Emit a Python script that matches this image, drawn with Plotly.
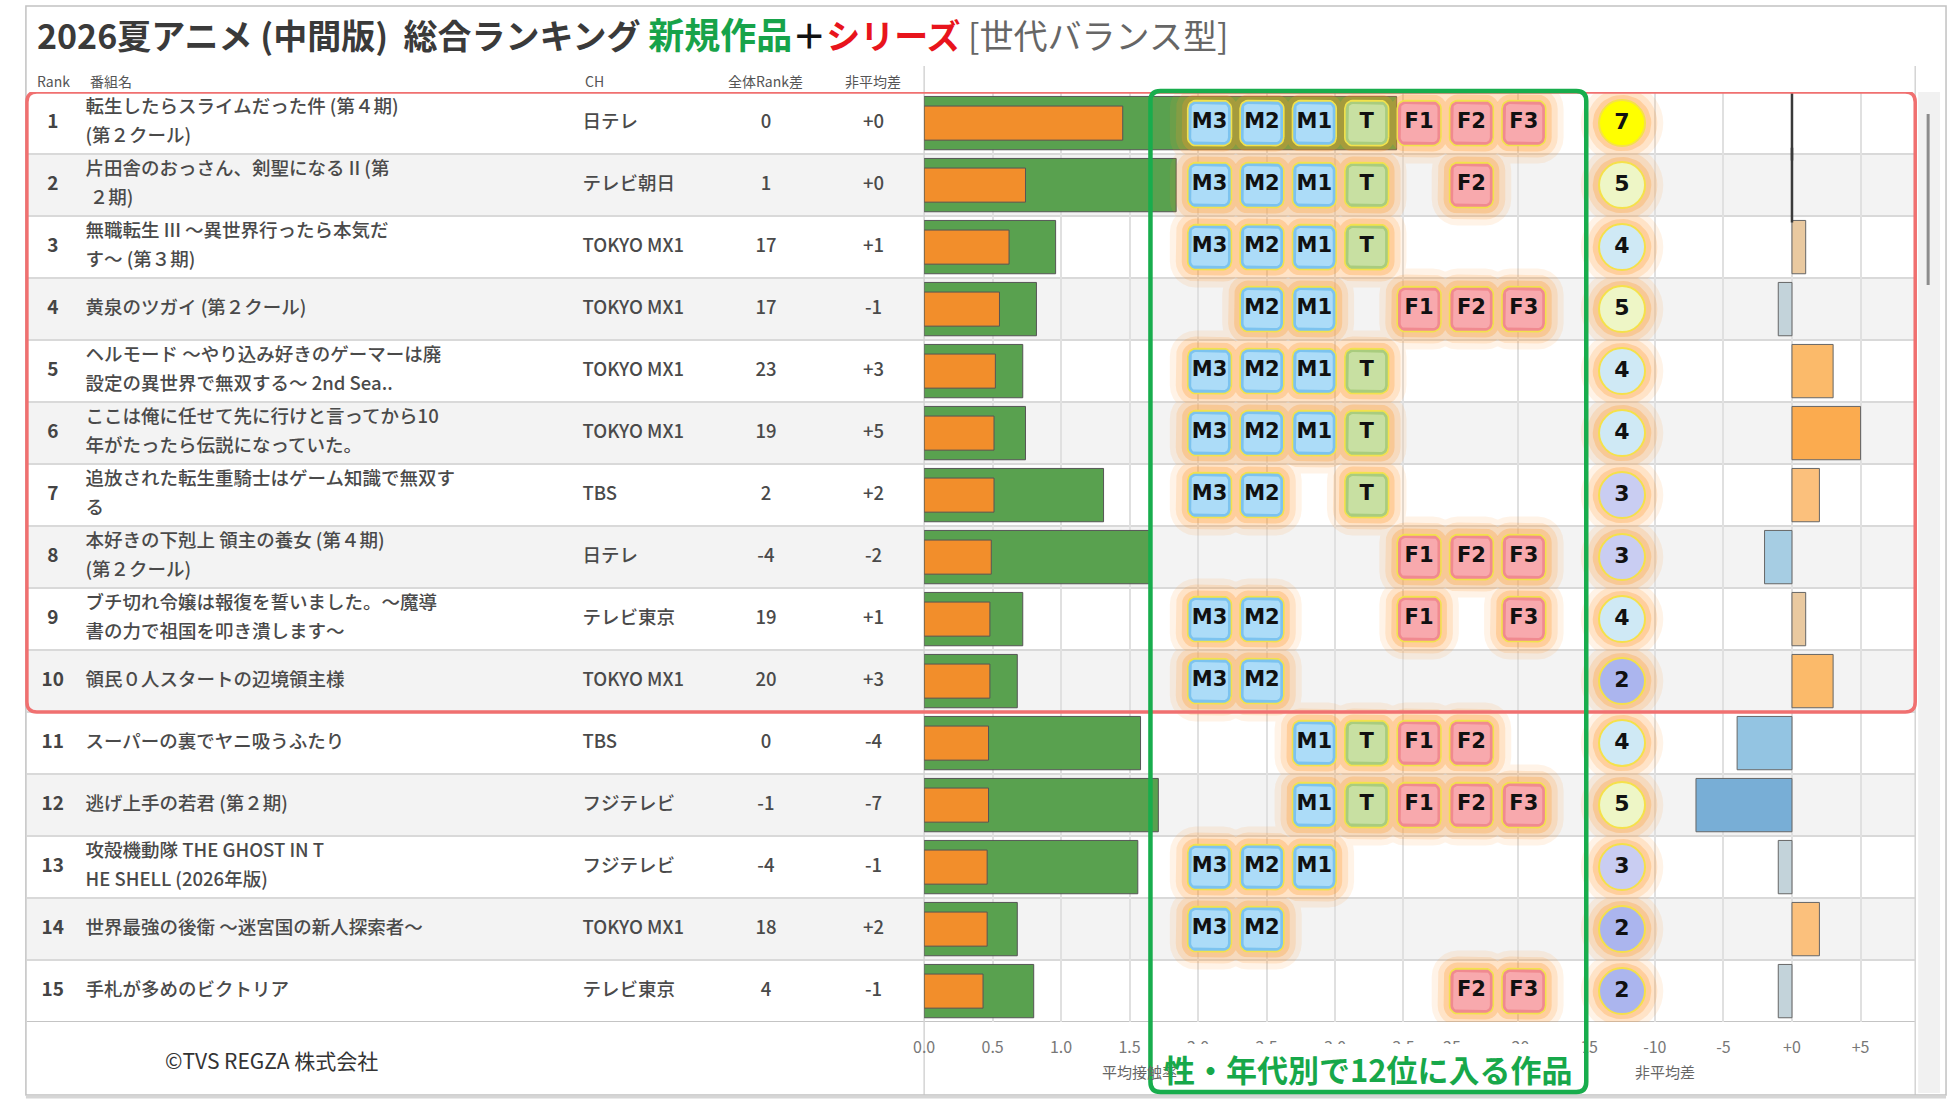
import math
import plotly.graph_objects as go

W, H = 1950, 1104

# ---------------- data ----------------
ranks = list(range(1, 16))
titles = [
    "転生したらスライムだった件 (第４期)|(第２クール)",
    "片田舎のおっさん、剣聖になる II (第| ２期)",
    "無職転生 III ～異世界行ったら本気だ|す～ (第３期)",
    "黄泉のツガイ (第２クール)",
    "ヘルモード ～やり込み好きのゲーマーは廃|設定の異世界で無双する～ 2nd Sea..",
    "ここは俺に任せて先に行けと言ってから10|年がたったら伝説になっていた。",
    "追放された転生重騎士はゲーム知識で無双す|る",
    "本好きの下剋上 領主の養女 (第４期)|(第２クール)",
    "ブチ切れ令嬢は報復を誓いました。～魔導|書の力で祖国を叩き潰します～",
    "領民０人スタートの辺境領主様",
    "スーパーの裏でヤニ吸うふたり",
    "逃げ上手の若君 (第２期)",
    "攻殻機動隊 THE GHOST IN T|HE SHELL (2026年版)",
    "世界最強の後衛 ～迷宮国の新人探索者～",
    "手札が多めのビクトリア",
]
channels = ["日テレ", "テレビ朝日", "TOKYO MX1", "TOKYO MX1", "TOKYO MX1",
            "TOKYO MX1", "TBS", "日テレ", "テレビ東京", "TOKYO MX1",
            "TBS", "フジテレビ", "フジテレビ", "TOKYO MX1", "テレビ東京"]
rank_diff = [0, 1, 17, 17, 23, 19, 2, -4, 19, 20, 0, -1, -4, 18, 4]
nonavg_diff = [0, 0, 1, -1, 3, 5, 2, -2, 1, 3, -4, -7, -1, 2, -1]
avg_total = [3.45, 1.84, 0.96, 0.82, 0.72, 0.74, 1.31, 1.65, 0.72, 0.68,
             1.58, 1.71, 1.56, 0.68, 0.80]
avg_sub = [1.45, 0.74, 0.62, 0.55, 0.52, 0.51, 0.51, 0.49, 0.48, 0.48,
           0.47, 0.47, 0.46, 0.46, 0.43]
segments = ["M3", "M2", "M1", "T", "F1", "F2", "F3"]
top12_segments = [
    ["M3", "M2", "M1", "T", "F1", "F2", "F3"],
    ["M3", "M2", "M1", "T", "F2"],
    ["M3", "M2", "M1", "T"],
    ["M2", "M1", "F1", "F2", "F3"],
    ["M3", "M2", "M1", "T"],
    ["M3", "M2", "M1", "T"],
    ["M3", "M2", "T"],
    ["F1", "F2", "F3"],
    ["M3", "M2", "F1", "F3"],
    ["M3", "M2"],
    ["M1", "T", "F1", "F2"],
    ["M1", "T", "F1", "F2", "F3"],
    ["M3", "M2", "M1"],
    ["M3", "M2"],
    ["F2", "F3"],
]
avg_ticks = [0.0, 0.5, 1.0, 1.5, 2.0, 2.5, 3.0, 3.5]
diff_ticks = [-25, -20, -15, -10, -5, 0, 5]
highlight_top = 10

# ---------------- layout constants (pixels) ----------------
FONT = "Noto Sans CJK JP"
ROW_TOP, ROW_BOT = 92.1, 1022.1
N = len(ranks)
ROW_PX = (ROW_BOT - ROW_TOP) / N
AVG_X0, AVG_PX = 917.8, 137.8      # px of 0, px per unit
SPLIT_X = 1446.0
DIFF_X1 = 1915.0
DIFF_PX = 13.8
BADGE_X0, BADGE_STEP = 1205.0, 52.7
BADGE_W, BADGE_H, BADGE_R = 44, 45, 8
CIRCLE_X = 1620.0
TXT = "#4a4a4a"


def px2py(p):
    return 1 - p / H


def rrect(cx, cy, w, h, r, n=6):
    xs, ys = [], []
    corners = [(w / 2 - r, h / 2 - r, 0), (-(w / 2 - r), h / 2 - r, 90),
               (-(w / 2 - r), -(h / 2 - r), 180), (w / 2 - r, -(h / 2 - r), 270)]
    for ox, oy, a0 in corners:
        for k in range(n + 1):
            a = math.radians(a0 + 90 * k / n)
            xs.append(cx + ox + r * math.cos(a))
            ys.append(cy + (oy + r * math.sin(a)) / ROW_PX)
    xs.append(xs[0])
    ys.append(ys[0])
    return xs, ys


def rpath(x0, x1, y0, y1, rx, ry):
    return (f"M {x0+rx},{y0} L {x1-rx},{y0} Q {x1},{y0} {x1},{y0+ry} "
            f"L {x1},{y1-ry} Q {x1},{y1} {x1-rx},{y1} L {x0+rx},{y1} "
            f"Q {x0},{y1} {x0},{y1-ry} L {x0},{y0+ry} Q {x0},{y0} {x0+rx},{y0} Z")


fig = go.Figure()

# ---------------- average bars (xaxis) ----------------
fig.add_trace(go.Bar(x=avg_total, y=ranks, orientation="h", width=0.86,
                     marker=dict(color="#59a14f", line=dict(color="#555555", width=1)),
                     xaxis="x", yaxis="y", hoverinfo="skip"))
fig.add_trace(go.Bar(x=avg_sub, y=ranks, orientation="h", width=0.55,
                     marker=dict(color="#f28e2b", line=dict(color="#555555", width=1)),
                     xaxis="x", yaxis="y", hoverinfo="skip"))

# ---------------- non-average diff bars (xaxis2) ----------------
diff_scale = [[0.0, "#78aed6"], [0.25, "#93c4e2"], [0.4167, "#a6cde3"],
              [0.5, "#c3d3da"], [0.5833, "#d9d3c8"], [0.6667, "#e9c9a0"],
              [0.75, "#fbc07c"], [0.8333, "#fbba6a"], [1.0, "#fbab4f"]]
fig.add_trace(go.Bar(x=nonavg_diff, y=ranks, orientation="h", width=0.86,
                     marker=dict(color=nonavg_diff, colorscale=diff_scale, cmin=-7, cmax=5,
                                 line=dict(color="#666666", width=1)),
                     xaxis="x2", yaxis="y", hoverinfo="skip"))
zero_rows = [r for r, v in zip(ranks, nonavg_diff) if v == 0]
fig.add_trace(go.Scatter(x=[0] * len(zero_rows), y=zero_rows, mode="markers",
                         marker=dict(symbol="line-ns", size=0.86 * ROW_PX,
                                     line=dict(color="#3a3a3a", width=2.5)),
                         xaxis="x2", yaxis="y", hoverinfo="skip"))

# ---------------- badges & circles (xaxis3, pixel scale) ----------------
seg_color = {"M": "#acdcf8", "T": "#c8e0a2", "F": "#f8a9ad"}
seg_edge = {"M": "#7cc3ef", "T": "#a9cc7e", "F": "#f08a90"}
badge_pos = []
for r, segs in zip(ranks, top12_segments):
    for s in segs:
        badge_pos.append((BADGE_X0 + segments.index(s) * BADGE_STEP, r, s))
counts = [len(s) for s in top12_segments]

# glow
for exp, alpha in [(18, 0.11), (12, 0.17), (6, 0.27)]:
    gx, gy = [], []
    for bx, by, s in badge_pos:
        xs, ys = rrect(bx, by, BADGE_W + 2 * exp, BADGE_H + 2 * exp, BADGE_R + exp)
        gx += xs + [None]
        gy += ys + [None]
    for r in ranks:
        xs, ys = rrect(CIRCLE_X, r, 47 + 2 * exp, 44 + 2 * exp, 22 + exp, n=10)
        gx += xs + [None]
        gy += ys + [None]
    fig.add_trace(go.Scatter(x=gx, y=gy, mode="lines", fill="toself",
                             fillcolor=f"rgba(255,150,40,{alpha})",
                             line=dict(width=0), xaxis="x3", yaxis="y",
                             hoverinfo="skip"))

for key in ["M", "T", "F"]:
    for w_add, col, lw in [(0, seg_edge[key], 1.6), (-7, seg_color[key], 0)]:
        gx, gy = [], []
        for bx, by, s in badge_pos:
            if s[0] != key:
                continue
            xs, ys = rrect(bx, by, BADGE_W + w_add, BADGE_H + w_add, BADGE_R + w_add / 2)
            gx += xs + [None]
            gy += ys + [None]
        fig.add_trace(go.Scatter(x=gx, y=gy, mode="lines", fill="toself", fillcolor=col,
                                 line=dict(width=lw, color="#f2e24c" if lw else col),
                                 xaxis="x3", yaxis="y", hoverinfo="skip"))

fig.add_trace(go.Scatter(x=[b[0] for b in badge_pos], y=[b[1] for b in badge_pos],
                         mode="text", text=["<b>%s</b>" % b[2] for b in badge_pos],
                         textfont=dict(family="DejaVu Sans", size=21, color="#111111"),
                         xaxis="x3", yaxis="y", hoverinfo="skip", cliponaxis=False))

circle_color = {7: "#ffff00", 5: "#eef6c6", 4: "#cfe9f5", 3: "#c9cdf2", 2: "#abb5ee"}
fig.add_trace(go.Scatter(x=[CIRCLE_X] * N, y=ranks, mode="markers+text",
                         marker=dict(size=46, color=[circle_color[c] for c in counts],
                                     line=dict(color="#f5e14a", width=2)),
                         text=["<b>%d</b>" % c for c in counts],
                         textfont=dict(family="DejaVu Sans", size=22, color="#111111"),
                         textposition="middle center",
                         xaxis="x3", yaxis="y", hoverinfo="skip", cliponaxis=False))

# ---------------- table text (xaxis3) ----------------
def add_text(xs, ys, texts, pos, size=18.5, color=TXT, family=FONT, weight=500):
    fig.add_trace(go.Scatter(x=xs, y=ys, mode="text", text=texts, textposition=pos,
                             textfont=dict(family=family, size=size, color=color,
                                           weight=weight),
                             xaxis="x3", yaxis="y", hoverinfo="skip", cliponaxis=False))

add_text([41] * N, ranks, [str(r) for r in ranks], "middle center", size=19,
         color="#444444", weight=700)
t_x, t_y, t_t = [], [], []
for r, t in zip(ranks, titles):
    parts = t.split("|")
    if len(parts) == 1:
        t_x.append(74); t_y.append(r); t_t.append(parts[0])
    else:
        t_x += [74, 74]; t_y += [r - 0.235, r + 0.235]; t_t += parts
add_text(t_x, t_y, t_t, "middle right")
add_text([574] * N, ranks, channels, "middle right")
add_text([758.6] * N, ranks, [str(v) for v in rank_diff], "middle center")
add_text([866.8] * N, ranks, ["%+d" % v for v in nonavg_diff], "middle center")

# ---------------- shapes ----------------
shapes = []
for r in ranks:
    if r % 2 == 0:
        shapes.append(dict(type="rect", xref="paper", yref="y", x0=15 / W, x1=DIFF_X1 / W,
                           y0=r - 0.5, y1=r + 0.5, fillcolor="#f3f3f3",
                           line=dict(width=0), layer="below"))
for r in ranks:
    shapes.append(dict(type="line", xref="paper", yref="y", x0=15 / W, x1=DIFF_X1 / W,
                       y0=r + 0.5, y1=r + 0.5, line=dict(color="#d9d9d9", width=2),
                       layer="below"))
shapes.append(dict(type="line", xref="paper", yref="y", x0=15 / W, x1=DIFF_X1 / W,
                   y0=N + 0.5, y1=N + 0.5, line=dict(color="#c4c4c4", width=2), layer="below"))
# vertical separators
for xx in [AVG_X0, DIFF_X1]:
    shapes.append(dict(type="line", xref="paper", yref="paper", x0=xx / W, x1=xx / W,
                       y0=px2py(66), y1=px2py(1095), line=dict(color="#d4d4d4", width=1.5),
                       layer="below"))
# scrollbar
shapes.append(dict(type="rect", xref="paper", yref="paper", x0=1918 / W, x1=1940 / W,
                   y0=px2py(92), y1=px2py(1093), fillcolor="#f1f1f1", line=dict(width=0),
                   layer="below"))
shapes.append(dict(type="line", xref="paper", yref="paper", x0=1928 / W, x1=1928 / W,
                   y0=px2py(114), y1=px2py(285), line=dict(color="#8c8c8c", width=3),
                   layer="below"))
# frame
shapes.append(dict(type="rect", xref="paper", yref="paper", x0=14 / W, x1=1946 / W,
                   y0=px2py(1095), y1=px2py(6), line=dict(color="#c2c2c2", width=1.5),
                   layer="below"))
shapes.append(dict(type="line", xref="paper", yref="paper", x0=14 / W, x1=1946 / W,
                   y0=px2py(1097), y1=px2py(1097), line=dict(color="#d6d6d6", width=3),
                   layer="below"))
# top-N highlight box (red)
shapes.append(dict(type="path", xref="x3", yref="y",
                   path=rpath(15, DIFF_X1, 0.5, highlight_top + 0.5, 10, 10 / ROW_PX),
                   line=dict(color="#f07070", width=3.5), layer="above"))
# green box + label background
GX0, GX1 = 1145.5, 1584.0
shapes.append(dict(type="rect", xref="x3", yref="paper", x0=GX0 + 3, x1=GX1 - 3,
                   y0=px2py(1089), y1=px2py(1044), fillcolor="#ffffff",
                   line=dict(width=0), layer="above"))
shapes.append(dict(type="path", xref="x3", yref="paper",
                   path=rpath(GX0, GX1, px2py(91), px2py(1092), 10, -10 / H),
                   line=dict(color="#18ad4d", width=4.5), layer="above"))

# ---------------- annotations ----------------
ann = []
title_html = ("<b>2026夏アニメ (中間版)  総合ランキング </b>"
              "<b><span style='color:#17a34a;font-size:36px'>新規作品</span></b>"
              "<b><span style='color:#111111'>＋</span></b>"
              "<b><span style='color:#e8141c'>シリーズ</span></b>"
              "<span style='color:#666666'> [世代バランス型]</span>")
ann.append(dict(text=title_html, x=23 / W, y=px2py(33), xref="paper", yref="paper",
                xanchor="left", yanchor="middle", showarrow=False,
                font=dict(family=FONT, size=34, color="#3a3a3a")))
for label, xx, anc in [("Rank", 23, "left"), ("番組名", 76, "left"), ("CH", 575, "left"),
                       ("全体Rank差", 758.6, "center"), ("非平均差", 866.8, "center")]:
    ann.append(dict(text=label, x=xx / W, y=px2py(81), xref="paper", yref="paper",
                    xanchor=anc, yanchor="middle", showarrow=False,
                    font=dict(family=FONT, size=14, color="#555555")))
ann.append(dict(text="©TVS REGZA 株式会社", x=152 / W, y=px2py(1060), xref="paper",
                yref="paper", xanchor="left", yanchor="middle", showarrow=False,
                font=dict(family=FONT, size=21, color="#333333")))
ann.append(dict(text="平均接触率", x=1095 / W, y=px2py(1071), xref="paper", yref="paper",
                xanchor="left", yanchor="middle", showarrow=False,
                font=dict(family=FONT, size=15, color="#666666")))
ann.append(dict(text="非平均差", x=1663 / W, y=px2py(1071), xref="paper", yref="paper",
                xanchor="center", yanchor="middle", showarrow=False,
                font=dict(family=FONT, size=15, color="#666666")))
ann.append(dict(text="<b>性・年代別で12位に入る作品</b>", x=(GX0 + GX1) / 2 / W,
                y=px2py(1068), xref="paper", yref="paper", xanchor="center",
                yanchor="middle", showarrow=False,
                font=dict(family=FONT, size=31, color="#17a84a")))

axis_common = dict(showgrid=True, gridcolor="#e0e0e0", gridwidth=1.5, zeroline=False,
                   showline=False, ticks="outside", ticklen=11, tickcolor="rgba(0,0,0,0)",
                   tickfont=dict(family=FONT, size=16, color="#777777"), fixedrange=True)

fig.update_layout(
    width=W, height=H, margin=dict(l=0, r=0, t=0, b=0),
    paper_bgcolor="#ffffff", plot_bgcolor="rgba(0,0,0,0)",
    showlegend=False, barmode="overlay", hovermode=False,
    xaxis=dict(domain=[AVG_X0 / W, SPLIT_X / W], range=[0, (SPLIT_X - AVG_X0) / AVG_PX],
               tickvals=avg_ticks, ticktext=["%.1f" % v for v in avg_ticks],
               anchor="y", **axis_common),
    xaxis2=dict(domain=[SPLIT_X / W, DIFF_X1 / W],
                range=[-25, -25 + (DIFF_X1 - SPLIT_X) / DIFF_PX],
                tickvals=diff_ticks, ticktext=["%+d" % v if v >= 0 else str(v) for v in diff_ticks],
                anchor="y", **axis_common),
    xaxis3=dict(domain=[0, 1], range=[0, W], visible=False, anchor="y", fixedrange=True),
    yaxis=dict(domain=[1 - ROW_BOT / H, 1 - ROW_TOP / H], range=[N + 0.5, 0.5],
               visible=False, fixedrange=True),
    shapes=shapes, annotations=ann,
)

fig.write_html("out.html", config={"displayModeBar": False},
               post_script="document.body.style.margin='0px';"
                           "document.body.style.overflow='hidden';")
